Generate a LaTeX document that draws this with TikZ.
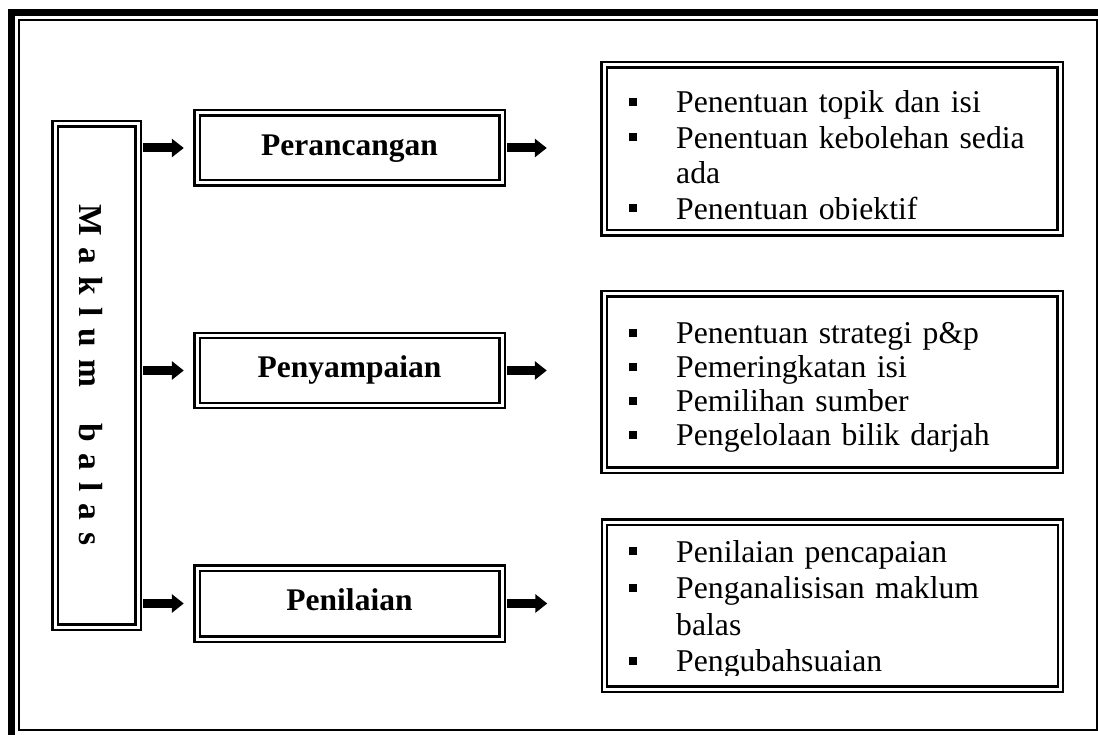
\documentclass[tikz,border=0pt]{standalone}
\usepackage{fontspec}
\setmainfont{Liberation Serif}
\usetikzlibrary{arrows.meta}
\newcommand{\sqbullet}{\makebox[47pt][l]{\rule[7pt]{8pt}{8pt}}}
\newcommand{\contline}{\hspace*{47pt}}
\begin{document}
\begin{tikzpicture}[x=1pt,y=-1pt,
  dbl/.style={draw, line width=2.4pt, double=white, double distance=3pt, inner sep=0pt},
  stage/.style={dbl, minimum width=305pt, minimum height=70pt,
    font=\fontsize{31.5}{36}\selectfont\bfseries, text height=21.5pt, text depth=7pt},
  listbox/.style={dbl, minimum width=456pt},
  blockarrow/.style={line width=9pt, -{Triangle[length=12pt,width=18pt]}},
  itemtext/.style={anchor=base west, inner sep=0pt, text width=430pt, align=left}
]
\clip (0,0) rectangle (1098,735);
% page frame: thick outer rule, thin inner rule
\draw[line width=7pt] (11,13) rectangle (1120,760);
\draw[line width=2pt] (19,20.5) rectangle (1096.5,729.5);

% feedback column
\node[dbl, minimum width=83pt, minimum height=503pt] (mb) at (96.5,375.5) {};
\node[rotate=-90, anchor=base, inner sep=0pt,
  font=\fontsize{33.5}{36}\selectfont\bfseries] (mbtext) at (79,375)
  {\spaceskip=12pt M a k l u m\hspace{36pt}b a l a s};

% stages
\node[stage] (p1) at (349.5,148) {Perancangan};
\node[stage] (p2) at (349.5,370.5) {Penyampaian};
\node[stage, minimum height=71pt] (p3) at (349.5,603.5) {Penilaian};

% activity boxes
\node[listbox, minimum height=168pt] (r1) at (832,149) {};
\node[listbox, minimum height=176pt] (r2) at (832,382) {};
\node[listbox, minimum height=167pt] (r3) at (832.5,605.5) {};

\begin{scope}
  \clip (r1.north west) rectangle ([yshift=14.5pt]r1.south east);
  \node[itemtext, font=\fontsize{31.7}{35.5}\selectfont] (t1) at (629,113)
    {\sqbullet Penentuan topik dan isi\\
     \sqbullet Penentuan kebolehan sedia\\
     \contline ada\\
     \sqbullet Penentuan objektif};
\end{scope}
\begin{scope}
  \clip (r2.north west) rectangle ([yshift=14.5pt]r2.south east);
  \node[itemtext, font=\fontsize{31.7}{34}\selectfont] (t2) at (629,344)
    {\sqbullet Penentuan strategi p\&p\\
     \sqbullet Pemeringkatan isi\\
     \sqbullet Pemilihan sumber\\
     \sqbullet Pengelolaan bilik darjah};
\end{scope}
\begin{scope}
  \clip (r3.north west) rectangle ([yshift=14.5pt]r3.south east);
  \node[itemtext, font=\fontsize{31.7}{36.5}\selectfont] (t3) at (629,562)
    {\sqbullet Penilaian pencapaian\\
     \sqbullet Penganalisisan maklum\\
     \contline balas\\
     \sqbullet Pengubahsuaian};
\end{scope}

% connectors
\foreach \s in {p1,p2,p3}{
  \draw[blockarrow, shorten <=4pt, shorten >=12pt] (mb.east |- \s.west) -- (\s.west);
}
\foreach \s/\r in {p1/r1,p2/r2,p3/r3}{
  \draw[blockarrow, shorten <=4pt, shorten >=56pt] (\s.east) -- (\s.east -| \r.west);
}
\end{tikzpicture}
\end{document}
